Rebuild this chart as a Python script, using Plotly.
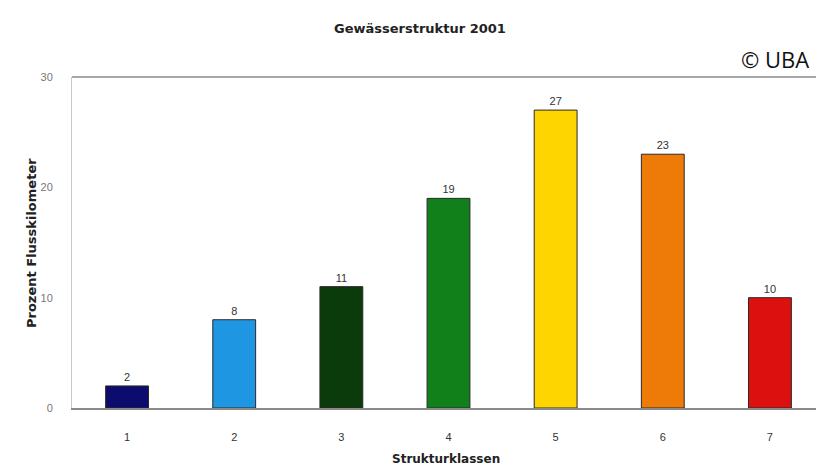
import plotly.graph_objects as go

categories = [1, 2, 3, 4, 5, 6, 7]
values = [2, 8, 11, 19, 27, 23, 10]
tick_labels = ["1", "2", "3", "4", "5", "6", "7"]
colors = ["#0c0c6e", "#1f96e2", "#0b3a0b", "#11801a", "#ffd500", "#ee7a08", "#dd1010"]

fig = go.Figure()
fig.add_trace(go.Bar(
    x=categories, y=values, width=0.40,
    marker=dict(color=colors, line=dict(color="#2a2a2a", width=1)),
    text=[str(v) for v in values], textposition="outside",
    textfont=dict(family="Liberation Sans, Arial", size=11, color="#333333"),
    cliponaxis=False, hoverinfo="skip",
))

fig.update_layout(
    width=816, height=468,
    margin=dict(l=72, r=0, t=77, b=60),
    paper_bgcolor="white", plot_bgcolor="white",
    showlegend=False,
    xaxis=dict(
        range=[0.486, 7.43], tickmode="array", tickvals=categories, ticktext=tick_labels,
        showgrid=False, zeroline=False, showline=True, linecolor="#8a8a8a", linewidth=1.5,
        ticks="", ticklabelstandoff=18,
        tickfont=dict(family="Liberation Sans, Arial", size=11, color="#333333"),
    ),
    yaxis=dict(
        range=[0, 30], tickvals=[0, 10, 20, 30],
        showgrid=False, zeroline=False, showline=True, linecolor="#c8c8c8", linewidth=1,
        ticks="", ticklabelstandoff=16,
        tickfont=dict(family="Liberation Sans, Arial", size=11, color="#777777"),
    ),
    annotations=[
        dict(text="<b>Gewässerstruktur 2001</b>", xref="paper", yref="paper",
             x=(420 - 72) / 744, y=1 + (77 - 28) / 331, xanchor="center", yanchor="middle",
             showarrow=False, font=dict(family="DejaVu Sans", size=13, color="#222222")),
        dict(text="© UBA", xref="paper", yref="paper",
             x=(811 - 72) / 744, y=1 + (77 - 59) / 331, xanchor="right", yanchor="middle",
             showarrow=False, font=dict(family="Open Sans", size=22, color="#111111")),
        dict(text="<b>Prozent Flusskilometer</b>", xref="paper", yref="paper",
             x=-(72 - 31) / 744, y=(408 - 243) / 331, xanchor="center", yanchor="middle",
             textangle=-90, showarrow=False,
             font=dict(family="DejaVu Sans", size=13, color="#222222")),
        dict(text="<b>Strukturklassen</b>", xref="paper", yref="paper",
             x=(446 - 72) / 744, y=-(459 - 408) / 331, xanchor="center", yanchor="middle",
             showarrow=False, font=dict(family="DejaVu Sans", size=12, color="#222222")),
    ],
    shapes=[
        dict(type="line", xref="paper", yref="paper", x0=0, x1=1, y0=1, y1=1,
             line=dict(color="#8a8a8a", width=1.5)),
    ],
)

fig.write_html("out.html")
